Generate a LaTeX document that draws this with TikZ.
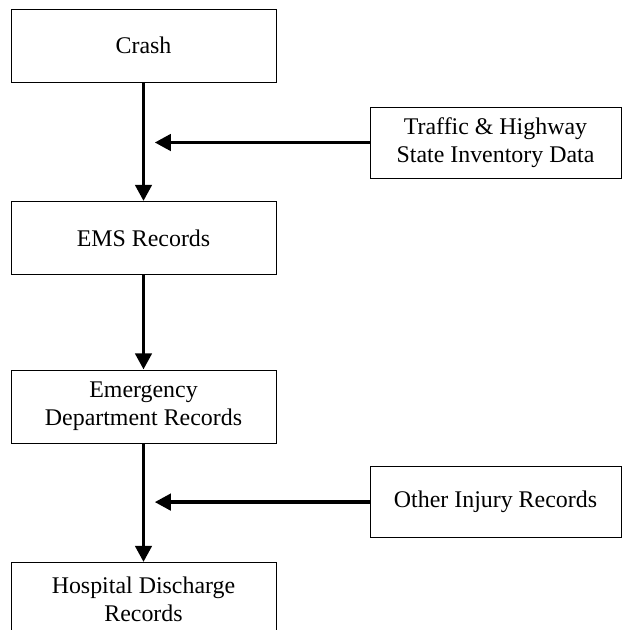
\documentclass[tikz,border=0pt]{standalone}
\usepackage{fontspec}
\setmainfont{Liberation Serif}
\usetikzlibrary{positioning, arrows.meta}

\begin{document}
\begin{tikzpicture}
    [
        node distance=4.8125cm and 8.8cm, on grid,
        main_node/.style={rectangle, draw=black, fill=white, line width=0.7pt, minimum width=6.625cm, minimum height=1.825cm, align=center, font=\fontsize{17}{20}\selectfont},
        side_node/.style={rectangle, draw=black, fill=white, line width=0.7pt, minimum width=6.275cm, minimum height=1.775cm, align=center, font=\fontsize{17}{20}\selectfont},
        flow/.style={-{Triangle[length=11.5pt, width=11.5pt]}, line width=2.8pt, color=black},
    ]
        \clip (0,0) rectangle (15.6,-15.75) ;
        \node[main_node] (crash) at (3.5875,-1.1375) {Crash} ;
        \node[main_node] (ems) [below = of crash] {EMS Records} ;
        \node[main_node] (ed) [below = 4.2125cm of ems] {Emergency\\Department Records} ;
        \node[main_node] (hosp) [below = of ed] {Hospital Discharge\\Records} ;
        \node[side_node] (traffic) [below right = 2.425cm and 8.8cm of crash] {Traffic \& Highway\\State Inventory Data} ;
        \node[side_node] (other) [below right = 2.39cm and 8.8cm of ed] {Other Injury Records} ;
        \coordinate (join1) at (crash.south |- traffic.west) ;
        \coordinate (join2) at (ed.south |- other.west) ;
        \draw[flow] (crash) -- (ems) ;
        \draw[flow] (ems) -- (ed) ;
        \draw[flow] (ed) -- (hosp) ;
        \draw[flow, shorten >=0.28cm] (traffic) -- (join1) ;
        \draw[flow, shorten >=0.28cm] (other) -- (join2) ;
    \end{tikzpicture}
\end{document}
